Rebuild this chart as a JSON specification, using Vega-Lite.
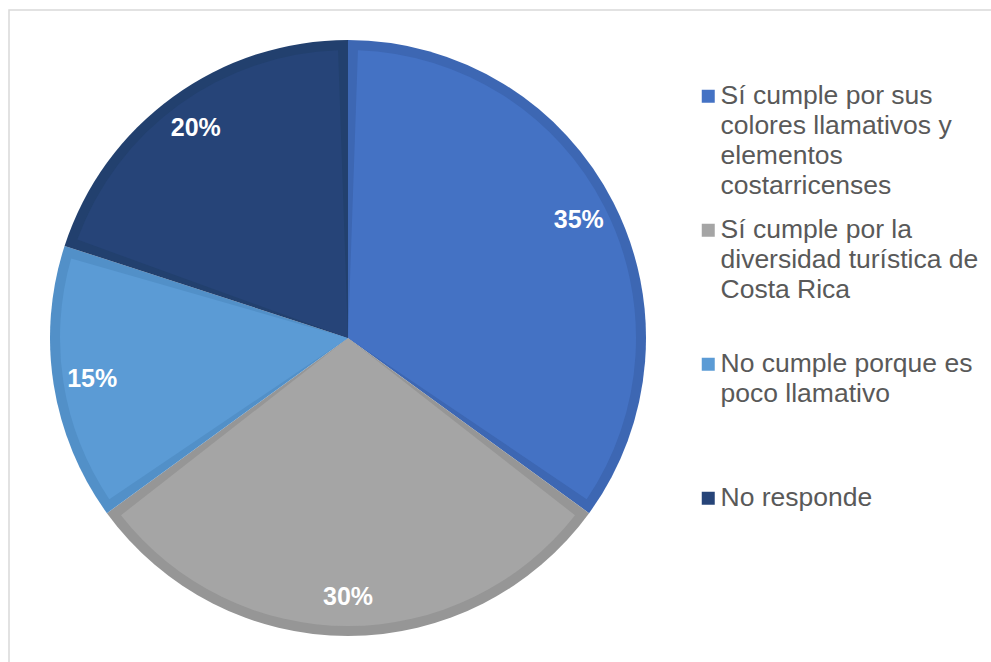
{
  "$schema": "https://vega.github.io/schema/vega-lite/v6.json",
  "autosize": "none",
  "width": 990,
  "height": 660,
  "padding": {"left": 9, "top": 10, "right": 0, "bottom": 0},
  "background": "white",
  "config": {
    "view": {"stroke": null},
    "font": "Liberation Sans"
  },
  "data": {
    "values": [
      {"cat": "Sí cumple por sus colores llamativos y elementos costarricenses", "value": 0.35, "order": 1},
      {"cat": "Sí cumple por la diversidad turística de Costa Rica", "value": 0.30, "order": 2},
      {"cat": "No cumple porque es poco llamativo", "value": 0.15, "order": 3},
      {"cat": "No responde", "value": 0.20, "order": 4}
    ]
  },
  "layer": [
    {
      "data": {"values": [{}]},
      "mark": {"type": "rect", "filled": false, "stroke": "#D9D9D9", "strokeWidth": 1.5},
      "encoding": {
        "x": {"value": 0},
        "y": {"value": 0},
        "x2": {"value": 990},
        "y2": {"value": 660}
      }
    },
    {
      "mark": {"type": "arc", "x": 339, "y": 328, "outerRadius": 298, "innerRadius": 0},
      "encoding": {
        "theta": {"field": "value", "type": "quantitative", "stack": true},
        "order": {"field": "order", "type": "quantitative"},
        "color": {
          "field": "cat", "type": "nominal", "legend": null,
          "scale": {
            "domain": [
              "Sí cumple por sus colores llamativos y elementos costarricenses",
              "Sí cumple por la diversidad turística de Costa Rica",
              "No cumple porque es poco llamativo",
              "No responde"
            ],
            "range": ["#3D67B3", "#969696", "#5290C8", "#22406E"]
          }
        }
      }
    },
    {
      "layer": [
        {
          "mark": {"type": "arc", "x": 339, "y": 328, "outerRadius": 288, "innerRadius": 0, "padAngle": 0.069},
          "encoding": {
            "theta": {"field": "value", "type": "quantitative", "stack": true},
            "order": {"field": "order", "type": "quantitative"},
            "color": {
              "field": "cat", "type": "nominal",
              "scale": {
                "domain": [
                  "Sí cumple por sus colores llamativos y elementos costarricenses",
                  "Sí cumple por la diversidad turística de Costa Rica",
                  "No cumple porque es poco llamativo",
                  "No responde"
                ],
                "range": ["#4472C4", "#A5A5A5", "#5B9BD5", "#264478"]
              },
              "legend": {
                "title": null,
                "orient": "none",
                "legendX": 686,
                "legendY": 73,
                "padding": 0,
                "symbolType": "square",
                "symbolSize": 169,
                "symbolStrokeWidth": 0,
                "labelFont": "Liberation Sans",
                "labelFontSize": 26.5,
                "labelColor": "#595959",
                "labelOffset": -1,
                "labelLimit": 400,
                "rowPadding": 17,
                "labelExpr": "datum.label == 'Sí cumple por sus colores llamativos y elementos costarricenses' ? ['Sí cumple por sus', 'colores llamativos y', 'elementos', 'costarricenses'] : datum.label == 'Sí cumple por la diversidad turística de Costa Rica' ? ['Sí cumple por la', 'diversidad turística de', 'Costa Rica', ''] : datum.label == 'No cumple porque es poco llamativo' ? ['No cumple porque es', 'poco llamativo', '', ''] : ['No responde', '', '', '']",
                "encode": {"labels": {"update": {"lineHeight": {"value": 30}}}}
              }
            }
          }
        },
        {
          "mark": {"type": "text", "x": 339, "y": 328, "radius": 259, "fontSize": 25, "fontWeight": "bold", "color": "white", "font": "Liberation Sans"},
          "encoding": {
            "theta": {"field": "value", "type": "quantitative", "stack": true},
            "order": {"field": "order", "type": "quantitative"},
            "text": {"field": "value", "type": "quantitative", "format": ".0%"}
          }
        }
      ]
    }
  ],
  "resolve": {"scale": {"color": "independent", "theta": "shared"}, "legend": {"color": "independent"}}
}
